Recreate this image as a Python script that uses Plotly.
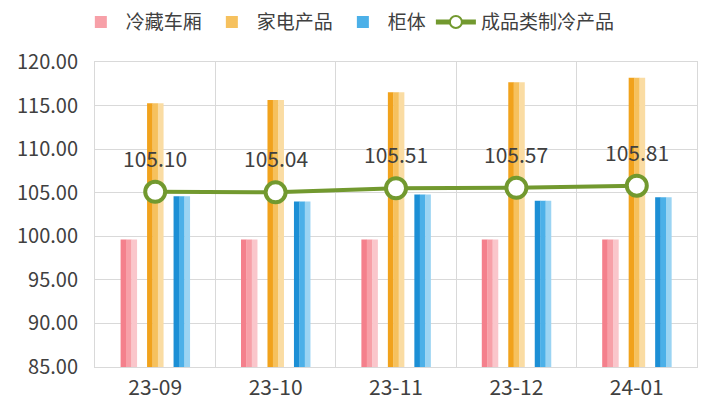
import plotly.graph_objects as go

# data
months = ["23-09", "23-10", "23-11", "23-12", "24-01"]
cold_box = [99.62, 99.62, 99.62, 99.62, 99.62]          # 冷藏车厢
appliance = [115.27, 115.65, 116.53, 117.67, 118.20]    # 家电产品
cabinet = [104.58, 104.00, 104.80, 104.08, 104.47]      # 柜体
finished = [105.10, 105.04, 105.51, 105.57, 105.81]     # 成品类制冷产品

FONT = "Noto Sans CJK SC"
TXT = "#404040"

fig = go.Figure()

# each bar is drawn as 3 thin strips to fake the left-to-right gradient
bar_w = 0.135
series = [
    ("冷藏车厢", cold_box, -0.22, ["#F4808C", "#F7A0A8", "#FAC6CB"]),
    ("家电产品", appliance, 0.0, ["#F1A21C", "#F6C15E", "#FADCA3"]),
    ("柜体", cabinet, 0.22, ["#1C8FD5", "#4CB0E8", "#9BD4F3"]),
]
for name, vals, center, shades in series:
    for k, col in enumerate(shades):
        fig.add_trace(go.Bar(
            x=months, y=vals, name=name,
            offset=center - bar_w / 2 + k * bar_w / 3,
            width=bar_w / 3 + 0.002,
            marker=dict(color=col, line=dict(width=0)),
            legendgroup=name, showlegend=(k == 1),
            hoverinfo="skip" if k != 1 else None,
        ))

fig.add_trace(go.Scatter(
    x=months, y=finished, name="成品类制冷产品",
    mode="lines+markers",
    line=dict(color="#72992F", width=4),
    marker=dict(size=20, color="white", line=dict(color="#72992F", width=4)),
))

# value labels over the line markers
for m, v in zip(months, finished):
    fig.add_annotation(x=m, y=v, text=f"{v:.2f}", showarrow=False,
                       yshift=34, font=dict(size=21, color=TXT, family=FONT))

# page body adds ~8px offset, margins compensate for it
fig.update_layout(
    width=720, height=414,
    margin=dict(l=87, r=31, t=54, b=55, autoexpand=False),
    paper_bgcolor="white", plot_bgcolor="white",
    barmode="overlay",
    font=dict(family=FONT, size=20, color=TXT),
    showlegend=True,
    legend=dict(orientation="h", x=0.42, xanchor="center",
                y=0.966, yanchor="middle", yref="container",
                font=dict(size=19, color=TXT), itemwidth=40,
                itemsizing="constant", traceorder="normal"),
)

fig.update_xaxes(
    type="category", tickson="boundaries", ticks="",
    showgrid=True, gridcolor="#D9D9D9", gridwidth=1,
    showline=True, linecolor="#D9D9D9", mirror=True,
    tickfont=dict(size=21, color=TXT), ticklabelstandoff=2,
)
fig.update_yaxes(
    range=[85, 120], dtick=5, tickformat=".2f",
    showgrid=True, gridcolor="#D9D9D9", gridwidth=1,
    showline=True, linecolor="#D9D9D9", mirror=True,
    zeroline=False, ticks="", ticklabelstandoff=12,
    tickfont=dict(size=20, color=TXT),
)

fig.write_html("out.html")
